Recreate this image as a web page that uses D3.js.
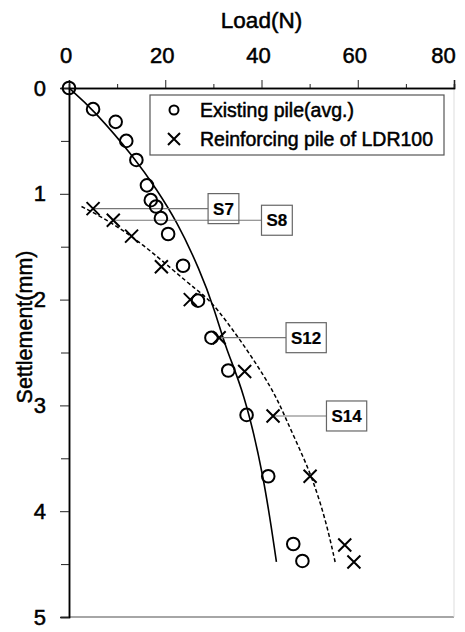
<!DOCTYPE html>
<html>
<head>
<meta charset="utf-8">
<script src="https://cdn.jsdelivr.net/npm/d3@7"></script>
<style>
  body { margin: 0; background: #fff; }
  svg { display: block; font-family: "Liberation Sans", Arial, sans-serif; }
  text { stroke: #000; stroke-width: 0.5px; }
</style>
</head>
<body>
<svg id="chart"></svg>
<script>
// measured points, [load (N), settlement (mm)]
var existingLoad = [0, 5.0, 9.7, 11.9, 14.0, 16.2, 17.0, 18.1, 19.1, 20.6, 23.7, 26.8, 29.6, 33.1, 36.9, 41.4, 46.6, 48.5];
var existingSettle = [0, 0.20, 0.32, 0.50, 0.68, 0.92, 1.06, 1.12, 1.23, 1.38, 1.68, 2.01, 2.36, 2.67, 3.09, 3.67, 4.31, 4.47];

var reinfLoad = [5.0, 9.2, 13.0, 19.2, 25.2, 31.2, 36.5, 42.4, 50.1, 57.3, 59.2];
var reinfSettle = [1.14, 1.25, 1.40, 1.69, 2.00, 2.36, 2.68, 3.10, 3.67, 4.32, 4.48];

// trend lines
var existingFitLoad = [0, 5.0, 14.0, 18.2, 22.3, 27.2, 30.3, 32.7, 36.2, 40.4, 43.1];
var existingFitSettle = [0, 0.20, 0.68, 0.96, 1.25, 1.72, 2.10, 2.48, 2.85, 3.64, 4.48];

var reinfFitLoad = [2.6, 8.5, 15.4, 21.6, 26.5, 29.3, 35.5, 42.4, 44.9, 48.0, 50.7, 53.5, 55.3];
var reinfFitSettle = [1.12, 1.26, 1.48, 1.72, 1.91, 2.0, 2.37, 2.85, 3.11, 3.42, 3.70, 4.11, 4.48];

// callouts: label, index into reinforcing points, load where the box starts
var calloutLabels = ["S7", "S8", "S12", "S14"];
var calloutIndex = [0, 1, 5, 7];
var calloutBoxLoad = [28.9, 40.0, 45.1, 53.5];

var xTicks = [0, 20, 40, 60, 80];
var yTicks = [0, 1, 2, 3, 4, 5];

var width = 465, height = 632;

var svg = d3.select("#chart")
    .attr("width", width)
    .attr("height", height);

var x = d3.scaleLinear().domain([0, 80]).range([69, 454]);
var y = d3.scaleLinear().domain([0, 5]).range([88, 617]);

var existing = existingLoad.map(function(d, i){ return [d, existingSettle[i]]; });
var reinf = reinfLoad.map(function(d, i){ return [d, reinfSettle[i]]; });
var existingFit = existingFitLoad.map(function(d, i){ return [d, existingFitSettle[i]]; });
var reinfFit = reinfFitLoad.map(function(d, i){ return [d, reinfFitSettle[i]]; });

// frame: gray bottom, faint right
svg.append("line")
    .attr("x1", x(0)).attr("x2", x(80))
    .attr("y1", y(5)).attr("y2", y(5))
    .attr("stroke", "#888").attr("stroke-width", 1.5);
svg.append("line")
    .attr("x1", x(80)).attr("x2", x(80))
    .attr("y1", y(0)).attr("y2", y(5))
    .attr("stroke", "#ddd").attr("stroke-width", 1);

// top axis
var xAxisMinor = d3.axisTop(x).tickValues(d3.range(10, 80, 20)).tickSize(4).tickFormat("");
var xAxis = d3.axisTop(x).tickValues(xTicks).tickSize(8).tickPadding(17).tickFormat(d3.format("d"));

svg.append("g").attr("transform", "translate(0," + y(0) + ")").call(xAxisMinor);
var gx = svg.append("g").attr("transform", "translate(0," + y(0) + ")").call(xAxis);

// left axis
var yAxisMinor = d3.axisLeft(y).tickValues(d3.range(0.5, 5, 1)).tickSize(8).tickFormat("");
var yAxis = d3.axisLeft(y).tickValues(yTicks).tickSize(9).tickPadding(14).tickFormat(d3.format("d"));

svg.append("g").attr("transform", "translate(" + x(0) + ",0)").call(yAxisMinor);
svg.append("g").attr("transform", "translate(" + x(0) + ",0)").call(yAxis);

svg.selectAll(".domain").attr("stroke", "#000").attr("stroke-width", 1.5);
svg.selectAll(".tick line").attr("stroke", "#222").attr("stroke-width", 1);
svg.selectAll(".tick text")
    .attr("font-size", 22)
    .attr("font-family", "Liberation Sans, Arial, sans-serif")
    .attr("fill", "#000");

// top labels sit a little left of their ticks; the last one is pulled in to fit
gx.selectAll(".tick text")
    .attr("dx", d => d == 80 ? -11 : -3.5);

// axis titles
svg.append("text")
    .attr("x", (x(0) + x(80)) / 2)
    .attr("y", 28)
    .attr("text-anchor", "middle")
    .attr("font-size", 22.5)
    .text("Load(N)");

svg.append("text")
    .attr("transform", "translate(32,327) rotate(-90)")
    .attr("text-anchor", "middle")
    .attr("font-size", 21.5)
    .text("Settlement(mm)");

// trend curves
var line = d3.line()
    .x(d => x(d[0]))
    .y(d => y(d[1]))
    .curve(d3.curveBasis);

svg.append("path")
    .datum(existingFit)
    .attr("d", line)
    .attr("fill", "none")
    .attr("stroke", "#000")
    .attr("stroke-width", 1.6);

svg.append("path")
    .datum(reinfFit)
    .attr("d", line)
    .attr("fill", "none")
    .attr("stroke", "#000")
    .attr("stroke-width", 1.5)
    .attr("stroke-dasharray", "4,2.5");

// callout lines and boxes
var callouts = calloutLabels.map(function(l, i){
  var p = reinf[calloutIndex[i]];
  return {label: l, x0: x(p[0]), yy: y(p[1]), bx: x(calloutBoxLoad[i])};
});

svg.append("g")
    .selectAll("line")
    .data(callouts)
    .join("line")
    .attr("x1", d => d.x0)
    .attr("x2", d => d.bx)
    .attr("y1", d => d.yy)
    .attr("y2", d => d.yy)
    .attr("stroke", "#777")
    .attr("stroke-width", 1.2);

var cg = svg.append("g")
    .selectAll("g")
    .data(callouts)
    .join("g");

cg.append("text")
    .attr("x", d => d.bx + 5)
    .attr("y", d => d.yy + 6)
    .attr("font-size", 17)
    .attr("font-weight", "bold")
    .style("stroke-width", "0.2px")
    .text(d => d.label)
    .each(function(d){ d.tw = this.getComputedTextLength(); });

cg.insert("rect", "text")
    .attr("x", d => d.bx)
    .attr("y", d => d.yy - 15)
    .attr("width", d => d.tw + 10)
    .attr("height", 30)
    .attr("fill", "none")
    .attr("stroke", "#666")
    .attr("stroke-width", 1.2);

// markers
svg.append("g")
    .selectAll("circle")
    .data(existing)
    .join("circle")
    .attr("cx", d => x(d[0]))
    .attr("cy", d => y(d[1]))
    .attr("r", 6.3)
    .attr("fill", "none")
    .attr("stroke", "#000")
    .attr("stroke-width", 2);

svg.append("g")
    .selectAll("path")
    .data(reinf)
    .join("path")
    .attr("transform", d => "translate(" + x(d[0]) + "," + y(d[1]) + ")")
    .attr("d", "M-6.5,-6.5L6.5,6.5M-6.5,6.5L6.5,-6.5")
    .attr("fill", "none")
    .attr("stroke", "#000")
    .attr("stroke-width", 2);

// legend
var lg = svg.append("g");
lg.append("rect")
    .attr("x", 150).attr("y", 95)
    .attr("width", 294).attr("height", 60)
    .attr("fill", "#fff")
    .attr("stroke", "#555")
    .attr("stroke-width", 1.2);
lg.append("circle")
    .attr("cx", 174).attr("cy", 110).attr("r", 4.5)
    .attr("fill", "none").attr("stroke", "#000").attr("stroke-width", 2);
lg.append("path")
    .attr("transform", "translate(174,139)")
    .attr("d", "M-6,-6L6,6M-6,6L6,-6")
    .attr("fill", "none").attr("stroke", "#000").attr("stroke-width", 2);
lg.append("text")
    .attr("x", 200).attr("y", 117)
    .attr("font-size", 19.5)
    .text("Existing pile(avg.)");
lg.append("text")
    .attr("x", 200).attr("y", 146)
    .attr("font-size", 19.5)
    .text("Reinforcing pile of LDR100");
</script>
</body>
</html>
